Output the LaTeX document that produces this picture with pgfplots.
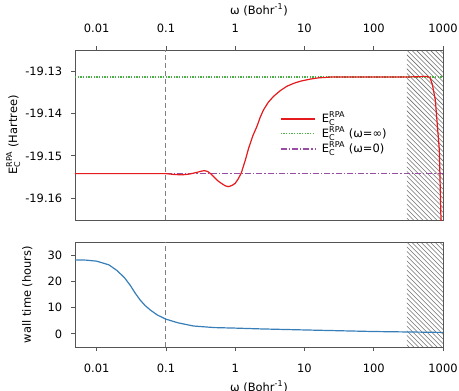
\documentclass[border=0pt]{standalone}
\usepackage{pgfplots}
\pgfplotsset{compat=1.18}
\usepackage{amsmath}
\usepackage{fontspec}
\setmainfont{DejaVu Sans}
\pgfdeclarelayer{background}
\pgfsetlayers{background,main}
\definecolor{myred}{RGB}{228,26,28}
\definecolor{mygreen}{RGB}{77,175,74}
\definecolor{mypurple}{RGB}{152,78,163}
\definecolor{myblue}{RGB}{55,126,184}
\definecolor{spine}{RGB}{85,85,85}
\definecolor{hatchc}{RGB}{112,112,112}
\newcommand{\ec}{E$\smash{_{\text{C}}^{\text{RPA}}}$}
\pgfplotsset{
  every axis/.append style={
    scale only axis, width=276pt, xmode=log, xmin=0.00486, xmax=1000,
    xtick={0.01,0.1,1,10,100,1000},
    xticklabels={0.01,0.1,1,10,100,1000},
    xminorticks=false,
    tick align=outside, major tick length=3pt,
    axis line style={draw=spine, line width=0.6pt},
    tick style={draw=spine, line width=0.6pt},
    /pgf/number format/assume math mode=true,
    ytick pos=left,
    xticklabel shift=7pt,
    yticklabel shift=3.5pt,
  }
}
\begin{document}
\fontsize{8.6}{10}\selectfont
\begin{tikzpicture}
\begin{axis}[name=top, height=127.5pt,
  ymin=-19.1652, ymax=-19.1249,
  xtick pos=right, xticklabel pos=right, xlabel near ticks,
  xlabel={ω (Bohr\textsuperscript{-1})},
  ytick={-19.16,-19.15,-19.14,-19.13},
  yticklabels={-19.16,-19.15,-19.14,-19.13},
  scaled y ticks=false,
  ylabel={E$_{\text{C}}^{\text{RPA}}$ (Hartree)},
  ylabel style={at={(axis description cs:-0.168,0.5)}, anchor=center},
  legend cell align=left,
  legend style={draw=none, fill=none, at={(rel axis cs:0.553,0.637)}, anchor=north west,
    row sep=2.5pt, column sep=4pt, inner sep=1pt, nodes={inner sep=0.5pt}},
  legend image code/.code={\draw[#1] (0pt,0pt) -- (26pt,0pt);},
]
\coordinate (tTL) at (axis cs:300,-19.1249);
\coordinate (tBR) at (axis cs:1000,-19.1652);
\addplot[draw=gray, line width=0.75pt, dash pattern=on 3.5pt off 2.5pt, forget plot]
  coordinates {(0.1,-19.1652) (0.1,-19.1249)};
\addplot[draw=mypurple, color=mypurple, line width=0.8pt, dash pattern=on 4.5pt off 1.5pt on 1pt off 1.5pt, forget plot] coordinates {(0.00486,-19.1542) (1000,-19.1542)};
\addplot[draw=mygreen, color=mygreen, line width=0.8pt, dash pattern=on 1pt off 1pt, forget plot] coordinates {(0.00486,-19.1313) (1000,-19.1313)};
\addplot[draw=myred, line width=0.9pt, forget plot] coordinates {
(0.00486,-19.1542) (0.01,-19.1542) (0.05,-19.1542) (0.1,-19.1542)
(0.13,-19.1544) (0.17,-19.1545) (0.22,-19.1543) (0.28,-19.1539) (0.33,-19.1536)
(0.36,-19.1535) (0.4,-19.1537) (0.44,-19.1542) (0.486,-19.1549) (0.56,-19.1559)
(0.643,-19.1566) (0.72,-19.1571) (0.8,-19.1573) (0.9,-19.1570) (1.0,-19.1565)
(1.1,-19.1555) (1.22,-19.1541) (1.4,-19.1510) (1.56,-19.1482) (1.8,-19.1452)
(2.06,-19.1430) (2.3,-19.1408) (2.56,-19.1391) (3.0,-19.1373) (3.57,-19.1359)
(4.5,-19.1345) (5.56,-19.1335) (7,-19.1328) (8.7,-19.1323) (12.1,-19.1318)
(16,-19.1315) (25,-19.1313) (50,-19.1313) (100,-19.1313) (300,-19.1313)
(500,-19.1312) (600,-19.1312) (650,-19.1315) (700,-19.1330) (774,-19.1367)
(850,-19.1450) (885,-19.1486) (933,-19.1644) (960,-19.1700)};
\addlegendimage{draw=myred, line width=0.9pt}
\addlegendentry{\ec}
\addlegendimage{draw=mygreen, line width=0.8pt, dash pattern=on 1pt off 1pt}
\addlegendentry{\ec{} (ω=∞)}
\addlegendimage{draw=mypurple, line width=0.8pt, dash pattern=on 4.5pt off 1.5pt on 1pt off 1.5pt}
\addlegendentry{\ec{} (ω=0)}
\end{axis}
\begin{axis}[name=bot, height=78.75pt,
  at={(top.south west)}, anchor=north west, yshift=-16.5pt,
  ymin=-5, ymax=35, ytick={0,10,20,30},
  xtick pos=left, xticklabel pos=left,
  xlabel={ω (Bohr\textsuperscript{-1})},
  ylabel={wall time (hours)},
  ylabel style={at={(axis description cs:-0.13,0.5)}, anchor=center},
]
\coordinate (bTL) at (axis cs:300,35);
\coordinate (bBR) at (axis cs:1000,-5);
\addplot[draw=gray, line width=0.75pt, dash pattern=on 3.5pt off 2.5pt, forget plot]
  coordinates {(0.1,-5) (0.1,35)};
\addplot[draw=myblue, line width=0.9pt] coordinates {
(0.00486,28.2) (0.007,28.1) (0.01,27.7) (0.015,26.3) (0.0195,24.2) (0.025,21.5)
(0.0305,18.5) (0.036,15.5) (0.0427,12.8) (0.05,10.8) (0.0594,9.1) (0.075,7.2)
(0.1,5.6) (0.15,4.2) (0.25,3.0) (0.5,2.4) (1,2.2) (2.3,1.9) (10,1.5) (100,0.9) (1000,0.55)};
\end{axis}
\begin{pgfonlayer}{background}
\begin{scope}
\clip (tTL) rectangle (tBR);
\foreach \k in {-42,...,10} \draw[hatchc, line width=0.4pt] ([xshift=\k*3.5pt]tTL) -- ++(150pt,-150pt);
\end{scope}
\begin{scope}
\clip (bTL) rectangle (bBR);
\foreach \k in {-30,...,10} \draw[hatchc, line width=0.4pt] ([xshift=\k*3.5pt]bTL) -- ++(150pt,-150pt);
\end{scope}
\end{pgfonlayer}
\pgfresetboundingbox
\path ([xshift=-56.25pt,yshift=37.5pt]top.north west) rectangle ([xshift=288pt,yshift=-255pt]top.north west);
\end{tikzpicture}
\end{document}
